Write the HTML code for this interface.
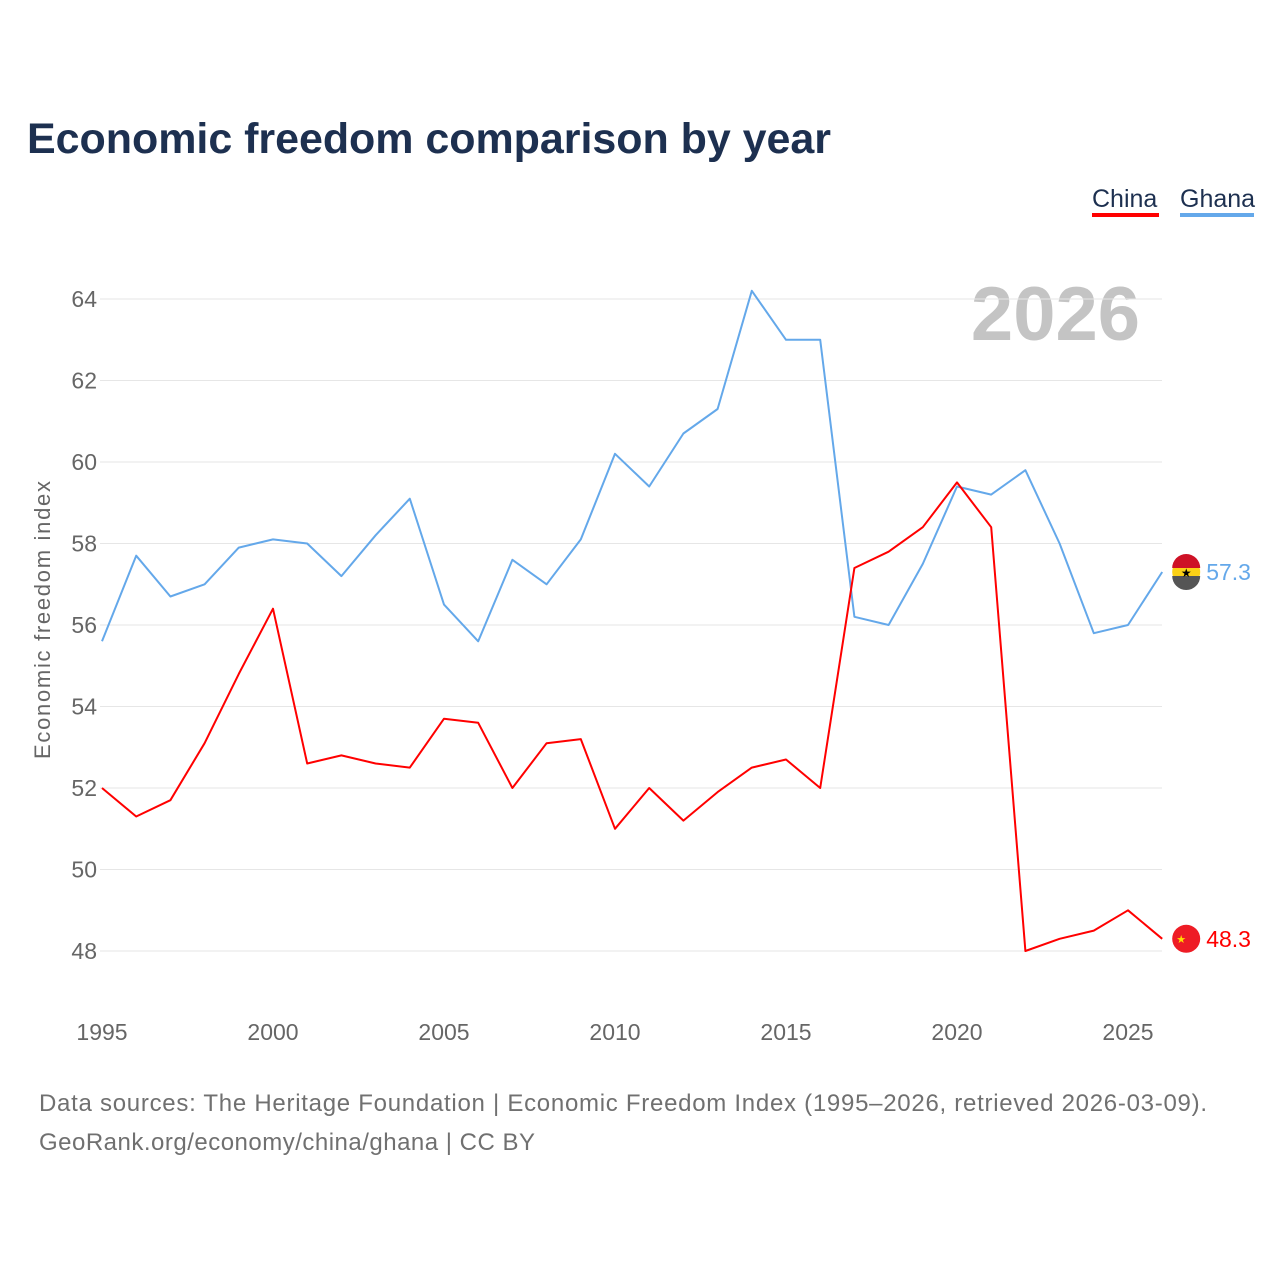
<!DOCTYPE html>
<html><head><meta charset="utf-8">
<style>
html,body{margin:0;padding:0;background:#fff;width:1280px;height:1280px;overflow:hidden}
svg{display:block;font-family:"Liberation Sans",sans-serif}
</style></head>
<body>
<svg id="chart" width="1280" height="1280" viewBox="0 0 1280 1280">
<text x="27" y="153" font-size="43" font-weight="bold" fill="#1d3050" textLength="804">Economic freedom comparison by year</text>
<g>
<text x="1092" y="207" font-size="25" fill="#1d3050">China</text>
<rect x="1092" y="213" width="67" height="4" fill="#ff0000"/>
<text x="1180" y="207" font-size="25" fill="#1d3050">Ghana</text>
<rect x="1180" y="213" width="74" height="4" fill="#64a8ea"/>
</g>
<text x="1140" y="340" font-size="76" font-weight="bold" fill="#c4c4c4" text-anchor="end">2026</text>
<g id="grid"></g>
<g id="yticks"></g>
<g id="xticks"></g>
<text transform="translate(50,620) rotate(-90)" font-size="22" fill="#666" text-anchor="middle" textLength="278">Economic freedom index</text>
<g id="series"></g>
<text x="39" y="1111" font-size="24" fill="#707070" textLength="1168">Data sources: The Heritage Foundation | Economic Freedom Index (1995–2026, retrieved 2026-03-09).</text>
<text x="39" y="1150" font-size="24" fill="#707070" textLength="496">GeoRank.org/economy/china/ghana | CC BY</text>
</svg>
<script>
const years = [];
for (let y = 1995; y <= 2026; y++) years.push(y);
const chinaValues = [52.0,51.3,51.7,53.1,54.8,56.4,52.6,52.8,52.6,52.5,53.7,53.6,52.0,53.1,53.2,51.0,52.0,51.2,51.9,52.5,52.7,52.0,57.4,57.8,58.4,59.5,58.4,48.0,48.3,48.5,49.0,48.3];
const ghanaValues = [55.6,57.7,56.7,57.0,57.9,58.1,58.0,57.2,58.2,59.1,56.5,55.6,57.6,57.0,58.1,60.2,59.4,60.7,61.3,64.2,63.0,63.0,56.2,56.0,57.5,59.4,59.2,59.8,58.0,55.8,56.0,57.3];
const yTicks = [48,50,52,54,56,58,60,62,64];
const xTicks = [1995,2000,2005,2010,2015,2020,2025];

const NS = "http://www.w3.org/2000/svg";
const xs = y => 102 + (y - 1995) * (1128 - 102) / 30;
const ys = v => 951 - (v - 48) * (951 - 299) / 16;
function mk(tag, attrs, parent) {
  const e = document.createElementNS(NS, tag);
  for (const k in attrs) e.setAttribute(k, attrs[k]);
  parent.appendChild(e);
  return e;
}
const grid = document.getElementById('grid');
const yt = document.getElementById('yticks');
const xt = document.getElementById('xticks');
const ser = document.getElementById('series');
yTicks.forEach(v => {
  const l = mk('line', {x1: 100, x2: 1162, y1: ys(v), y2: ys(v), stroke: '#e6e6e6', 'stroke-width': 1}, grid);
  
  
  const t = mk('text', {x: 97, y: ys(v) + 8, 'font-size': 23, fill: '#666', 'text-anchor': 'end'}, yt);
  t.textContent = v;
  
  
});
xTicks.forEach(y => {
  const t = mk('text', {x: xs(y), y: 1040, 'font-size': 23, fill: '#666', 'text-anchor': 'middle'}, xt);
  t.textContent = y;
  
  
});
function drawSeries(vals, color, name) {
  const d = vals.map((v, i) => (i ? 'L' : 'M') + xs(years[i]).toFixed(1) + ',' + ys(v).toFixed(1)).join('');
  const p = mk('path', {d: d, fill: 'none', stroke: color, 'stroke-width': 2, 'stroke-linejoin': 'round'}, ser);
  
  
  const last = vals[vals.length - 1];
  const cx = xs(years[years.length - 1]) + 24, cy = ys(last);
  const c = mk('circle', {cx: cx, cy: cy, r: 14, fill: name === 'china' ? '#ee1c25' : '#fcd116'}, ser);
  
  
  if (name === 'ghana') {
    const top = mk('path', {d: `M${cx-14},${cy-4} A14,14 0 0 1 ${cx+14},${cy-4} Z`, fill: '#ce1126'}, ser);
    
    
    const bot = mk('path', {d: `M${cx-14},${cy+4} A14,14 0 0 0 ${cx+14},${cy+4} Z`, fill: '#555'}, ser);
    
    
    const s = mk('text', {x: cx, y: cy + 5, 'font-size': 12, fill: '#000', 'text-anchor': 'middle'}, ser);
    s.textContent = '★';
    
    
  } else {
    const s = mk('text', {x: cx - 5, y: cy + 4, 'font-size': 11, fill: '#ffde00', 'text-anchor': 'middle'}, ser);
    s.textContent = '★';
    
    
  }
  const lbl = mk('text', {x: cx + 20, y: cy + 8, 'font-size': 23, fill: color}, ser);
  lbl.textContent = last.toFixed(1);
  
  
}
drawSeries(ghanaValues, '#64a8ea', 'ghana');
drawSeries(chinaValues, '#ff0000', 'china');
</script>
</body></html>
